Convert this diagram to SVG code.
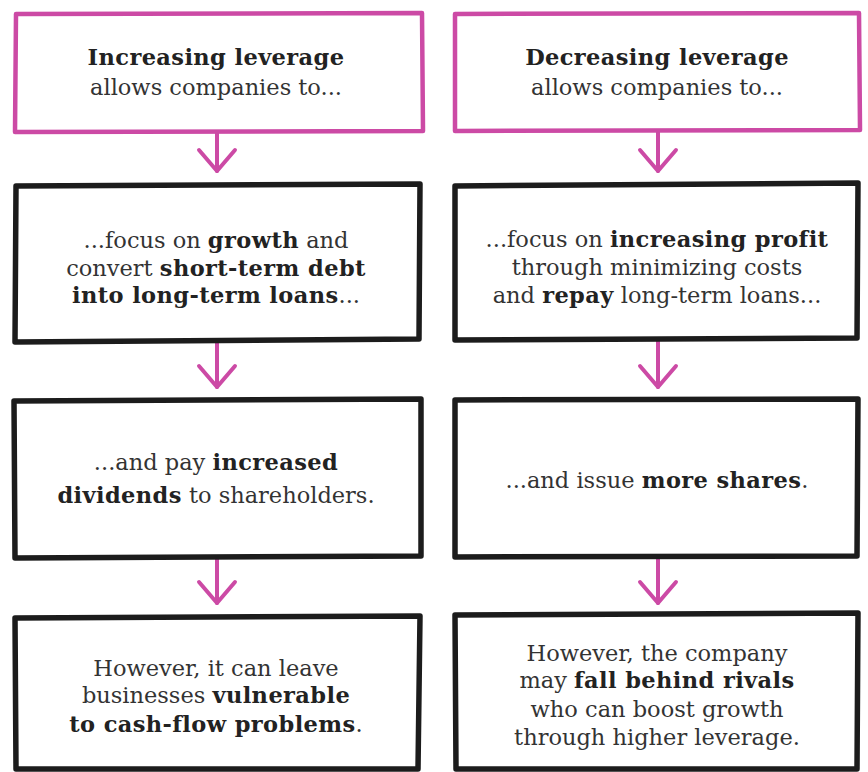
<svg xmlns="http://www.w3.org/2000/svg" width="868" height="772" viewBox="0 0 868 772">
<defs>
<style>
.pink{fill:#fff;stroke:#cc4aa5;stroke-width:4.5;stroke-linejoin:round}
.blk{fill:#fff;stroke:#1c1c1c;stroke-width:5.5;stroke-linejoin:round}
.t{font-family:"DejaVu Serif","Liberation Serif",serif;font-size:22.5px;fill:#333;text-anchor:middle}
.b{font-weight:bold;fill:#222;letter-spacing:0.4px}
.con{fill:none;stroke:#cc4aa5;stroke-width:4;stroke-linecap:round}
</style>
<marker id="ah" viewBox="-26 -22 30 44" markerWidth="30" markerHeight="44" refX="0" refY="0" orient="auto" markerUnits="userSpaceOnUse">
<path d="M-21,-18 L0,0 L-21,18" fill="none" stroke="#cc4aa5" stroke-width="4" stroke-linecap="round" stroke-linejoin="round"/>
</marker>
</defs>
<rect width="868" height="772" fill="#fff"/>

<g id="connectors">
<path class="con" d="M217,133 V171" marker-end="url(#ah)"/>
<path class="con" d="M217,343 V387" marker-end="url(#ah)"/>
<path class="con" d="M217,559 V603" marker-end="url(#ah)"/>
<path class="con" d="M658,131 V171" marker-end="url(#ah)"/>
<path class="con" d="M658,341 V387" marker-end="url(#ah)"/>
<path class="con" d="M658,559 V603" marker-end="url(#ah)"/>
</g>

<g id="node-inc">
<path class="pink" d="M16,14 L422,13 L423,131 L15,132 Z"/>
<text class="t" x="216" y="65"><tspan class="b">Increasing leverage</tspan></text>
<text class="t" x="216" y="95">allows companies to...</text>
</g>

<g id="node-dec">
<path class="pink" d="M455,14 L859,13 L860,130 L455,131 Z"/>
<text class="t" x="657" y="65"><tspan class="b">Decreasing leverage</tspan></text>
<text class="t" x="657" y="95">allows companies to...</text>
</g>

<g id="node-inc-2">
<path class="blk" d="M16,186 L420,184 L419,339 L15,342 Z"/>
<text class="t" x="216" y="248">...focus on <tspan class="b">growth</tspan> and</text>
<text class="t" x="216" y="276">convert <tspan class="b">short-term debt</tspan></text>
<text class="t" x="216" y="303"><tspan class="b">into long-term loans</tspan>...</text>
</g>

<g id="node-dec-2">
<path class="blk" d="M455,186 L858,183 L857,338 L455,340 Z"/>
<text class="t" x="657" y="247">...focus on <tspan class="b">increasing profit</tspan></text>
<text class="t" x="657" y="275">through minimizing costs</text>
<text class="t" x="657" y="303">and <tspan class="b">repay</tspan> long-term loans...</text>
</g>

<g id="node-inc-3">
<path class="blk" d="M14,401 L421,399 L421,556 L15,558 Z"/>
<text class="t" x="216" y="470">...and pay <tspan class="b">increased</tspan></text>
<text class="t" x="216" y="503"><tspan class="b">dividends</tspan> to shareholders.</text>
</g>

<g id="node-dec-3">
<path class="blk" d="M455,400 L858,399 L857,556 L455,557 Z"/>
<text class="t" x="657" y="488">...and issue <tspan class="b">more shares</tspan>.</text>
</g>

<g id="node-inc-4">
<path class="blk" d="M15,618 L420,616 L418,769 L16,769 Z"/>
<text class="t" x="216" y="676">However, it can leave</text>
<text class="t" x="216" y="703">businesses <tspan class="b">vulnerable</tspan></text>
<text class="t" x="216" y="732"><tspan class="b">to cash-flow problems</tspan>.</text>
</g>

<g id="node-dec-4">
<path class="blk" d="M455,615 L858,613 L857,769 L456,769 Z"/>
<text class="t" x="657" y="661">However, the company</text>
<text class="t" x="657" y="688">may <tspan class="b">fall behind rivals</tspan></text>
<text class="t" x="657" y="717">who can boost growth</text>
<text class="t" x="657" y="745">through higher leverage.</text>
</g>
</svg>
